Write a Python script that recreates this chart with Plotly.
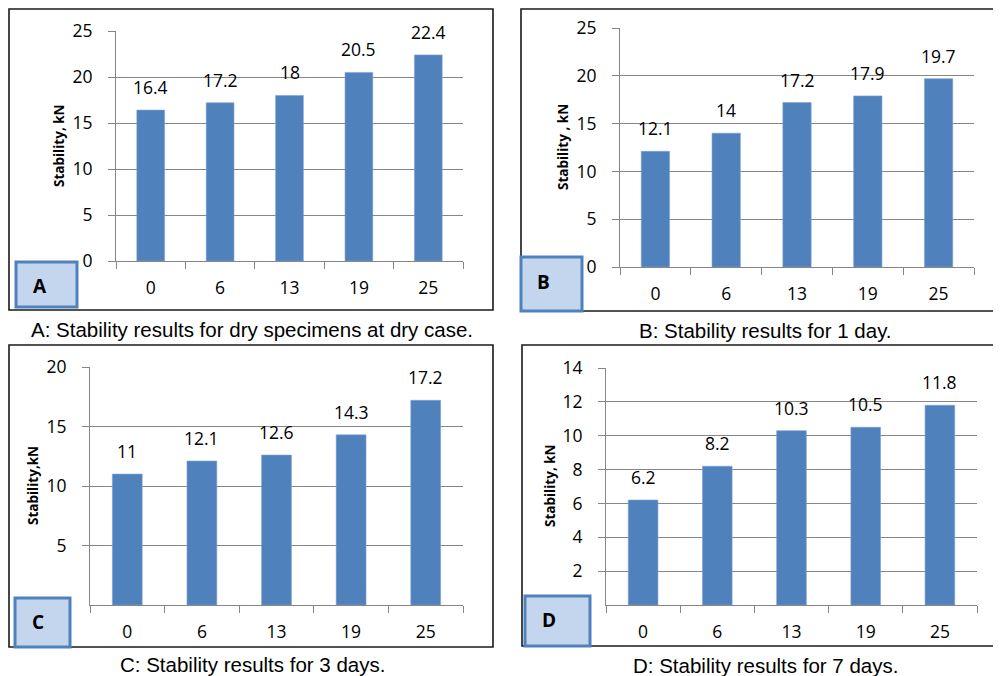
import plotly.graph_objects as go

W, H = 1001, 676
OFF = 8  # page body margin of the browser

categories = ["0", "6", "13", "19", "25"]
values_a = [16.4, 17.2, 18, 20.5, 22.4]
values_b = [12.1, 14, 17.2, 17.9, 19.7]
values_c = [11, 12.1, 12.6, 14.3, 17.2]
values_d = [6.2, 8.2, 10.3, 10.5, 11.8]

ytitles = ["Stability, kN", "Stability , kN", "Stability,kN", "Stability, kN"]
captions = [
    "A: Stability results for dry specimens at dry case.",
    "B: Stability results for 1 day.",
    "C: Stability results for 3 days.",
    "D: Stability results for 7 days.",
]
letters = ["A", "B", "C", "D"]
yranges = [[0, 25], [0, 25], [0, 20], [0, 14]]
ytickvals = [[0, 5, 10, 15, 20, 25], [0, 5, 10, 15, 20, 25], [5, 10, 15, 20], [2, 4, 6, 8, 10, 12, 14]]

# pixel layout (left, right, top, bottom) of each plot area, in page pixels
plot_px = [(116, 463, 31, 261), (620, 974, 28, 267), (90, 463, 367, 605), (606, 977, 368, 605)]
border_px = [(9, 493, 9, 310), (521, 1003, 9, 311), (9, 493, 345, 647), (522, 1003, 345, 646)]
box_px = [(16, 77, 262, 307), (521, 582, 257, 311), (15, 70, 598, 647), (525, 590, 596, 646)]
letter_px = [(40, 286), (543, 282), (38, 622), (549, 620)]
ytitle_px = [(59, 146), (563, 147), (33, 486), (550, 486)]
caption_px = [(252, 329), (765, 330), (252, 664), (765, 665)]


def px(x):
    return (x - OFF) / W


def py(y):
    return 1 - (y - OFF) / H


BAR = "#4F81BD"
GRID = "#868686"
FONT = "Open Sans"
TSIZE = 17.5

fig = go.Figure()
all_values = [values_a, values_b, values_c, values_d]
layout = {}
annotations = []
shapes = []

for i, vals in enumerate(all_values):
    n = "" if i == 0 else str(i + 1)
    fig.add_trace(go.Bar(
        x=categories, y=vals, xaxis="x" + n, yaxis="y" + n,
        marker=dict(color=BAR, line=dict(color="#7FA2D0", width=0.6)),
        showlegend=False, hoverinfo="x+y",
    ))
    l, r, t, b = plot_px[i]
    layout["xaxis" + n] = dict(
        domain=[px(l), px(r)], anchor="y" + n, type="category",
        categoryorder="array", categoryarray=categories,
        range=[-0.5, len(categories) - 0.5], automargin=False,
        showline=True, linecolor=GRID, linewidth=1,
        ticks="outside", tickson="boundaries", ticklen=7, tickcolor=GRID,
        showgrid=False, tickfont=dict(family=FONT, size=TSIZE, color="#000"),
        tickangle=0, ticklabelstandoff=11, fixedrange=True,
    )
    layout["yaxis" + n] = dict(
        domain=[py(b), py(t)], anchor="x" + n, range=yranges[i],
        tickvals=ytickvals[i], showline=True, linecolor=GRID, linewidth=1,
        ticks="outside", ticklen=7, tickcolor=GRID, automargin=False,
        showgrid=True, gridcolor=GRID, gridwidth=1, zeroline=False,
        tickfont=dict(family=FONT, size=TSIZE, color="#000"),
        ticklabelstandoff=12, fixedrange=True,
    )
    for k, v in enumerate(vals):
        annotations.append(dict(
            x=k, y=v, xref="x" + n, yref="y" + n, text=str(v),
            showarrow=False, xanchor="center", yanchor="bottom", yshift=9,
            font=dict(family=FONT, size=TSIZE, color="#000"),
        ))
    # panel border
    bl, br, bt, bb = border_px[i]
    shapes.append(dict(type="rect", xref="paper", yref="paper",
                       x0=px(bl), x1=px(br), y0=py(bb), y1=py(bt),
                       line=dict(color="#1a1a1a", width=1.6), layer="below"))
    # letter box
    kl, kr, kt, kb = box_px[i]
    shapes.append(dict(type="rect", xref="paper", yref="paper",
                       x0=px(kl), x1=px(kr), y0=py(kb), y1=py(kt),
                       fillcolor="#C3D6EE", line=dict(color="#4F81BD", width=3),
                       layer="above"))
    lx, ly = letter_px[i]
    annotations.append(dict(x=px(lx), y=py(ly), xref="paper", yref="paper",
                            xanchor="center", yanchor="middle",
                            text="<b>" + letters[i] + "</b>", showarrow=False,
                            font=dict(family=FONT, size=19, color="#000")))
    tx, ty = ytitle_px[i]
    annotations.append(dict(x=px(tx), y=py(ty), xref="paper", yref="paper",
                            xanchor="center", yanchor="middle",
                            text="<b>" + ytitles[i] + "</b>", showarrow=False,
                            textangle=-90,
                            font=dict(family=FONT, size=13.5, color="#000")))
    cx, cy = caption_px[i]
    annotations.append(dict(x=px(cx), y=py(cy), xref="paper", yref="paper",
                            xanchor="center", yanchor="middle",
                            text=captions[i], showarrow=False,
                            font=dict(family="Liberation Sans", size=20.5, color="#000")))

fig.update_layout(
    width=W, height=H, margin=dict(l=0, r=0, t=0, b=0, pad=0, autoexpand=False),
    paper_bgcolor="white", plot_bgcolor="white",
    bargap=0.6, annotations=annotations, shapes=shapes,
    **layout,
)

fig.write_html("out.html", config={"displayModeBar": False})
